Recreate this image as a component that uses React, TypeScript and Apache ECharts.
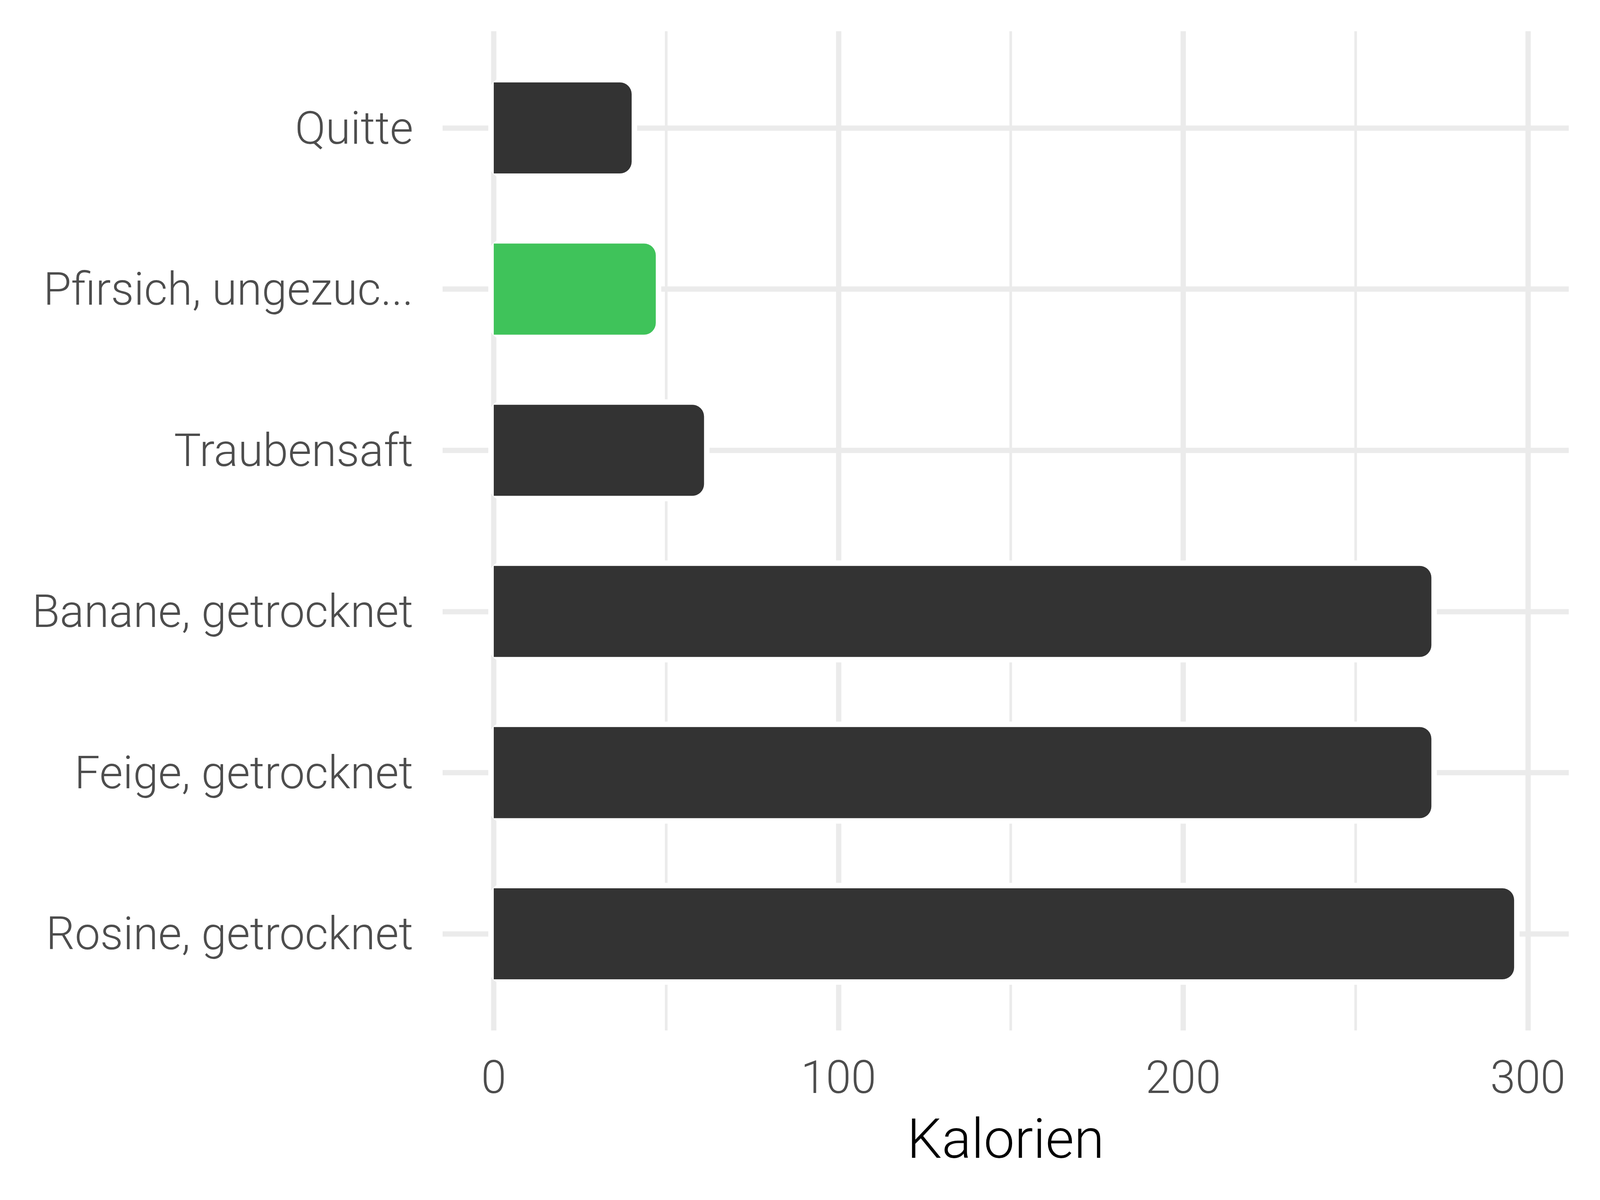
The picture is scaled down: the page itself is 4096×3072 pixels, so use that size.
import React, { useEffect, useRef } from "react";
import * as echarts from "echarts";

const categories = [
  "Quitte",
  "Pfirsich, ungezuc...",
  "Traubensaft",
  "Banane, getrocknet",
  "Feige, getrocknet",
  "Rosine, getrocknet",
];
const values = [40, 47, 61, 272, 272, 296];
const highlighted = [false, true, false, false, false, false];
const xTicks = [0, 100, 200, 300];
const xTitle = "Kalorien";

const DARK = "#333333";
const GREEN = "#3FC35A";
const GRID = "#EBEBEB";
const FONT = "Roboto";

export default function App() {
  const ref = useRef<HTMLDivElement>(null);
  useEffect(() => {
    const chart = echarts.init(ref.current!, null, { renderer: "svg" });
    chart.setOption({
      animation: false,
      backgroundColor: "#FFFFFF",
      grid: { left: 1133, right: 80, top: 80, bottom: 434, containLabel: false },
      xAxis: {
        type: "value",
        min: -14.85,
        max: 311.85,
        splitNumber: 3,
        axisLine: { show: false },
        axisTick: { show: false },
        minorTick: { show: false, splitNumber: 2 },
        axisLabel: {
          showMinLabel: false,
          showMaxLabel: false,
          fontFamily: FONT,
          fontWeight: 300,
          fontSize: 116,
          color: "#4D4D4D",
          margin: 62,
          formatter: (v: number) => (xTicks.indexOf(v) >= 0 ? String(v) : ""),
        },
        splitLine: {
          show: true,
          showMinLine: false,
          showMaxLine: false,
          lineStyle: { color: GRID, width: 13.6 },
        },
        minorSplitLine: { show: true, lineStyle: { color: GRID, width: 6.8 } },
        name: xTitle,
        nameLocation: "middle",
        nameGap: 207,
        nameTextStyle: { fontFamily: FONT, fontWeight: 300, fontSize: 141, color: "#000000" },
      },
      yAxis: {
        type: "value",
        inverse: true,
        min: 0.4,
        max: 6.6,
        splitNumber: 6,
        axisLine: { show: false, onZero: false },
        axisTick: { show: false },
        axisLabel: {
          showMinLabel: false,
          showMaxLabel: false,
          fontFamily: FONT,
          fontWeight: 300,
          fontSize: 116,
          color: "#4D4D4D",
          margin: 75,
          formatter: (v: number) => {
            const k = Math.round(v);
            return Math.abs(v - k) < 1e-6 && categories[k - 1] ? categories[k - 1] : "";
          },
        },
        splitLine: {
          show: true,
          showMinLine: false,
          showMaxLine: false,
          lineStyle: { color: GRID, width: 13.6 },
        },
      },
      series: [
        {
          type: "custom",
          dimensions: ["value", "pos"],
          encode: { x: 0, y: 1 },
          data: values.map((v, i) => [v, i + 1]),
          renderItem: (params: any, api: any) => {
            const v = api.value(0);
            const pos = api.value(1);
            const p0 = api.coord([0, pos]);
            const p1 = api.coord([v, pos]);
            const unit = Math.abs(api.size([0, 1])[1]);
            const h = unit * 0.565;
            const g = 14;
            const r = 30;
            const top = p0[1] - h / 2;
            const w = p1[0] - p0[0];
            const color = highlighted[params.dataIndex] ? GREEN : DARK;
            return {
              type: "group",
              children: [
                {
                  type: "rect",
                  shape: { x: p0[0] - g, y: top - g, width: w + 2 * g, height: h + 2 * g, r: r + g },
                  style: { fill: "#FFFFFF" },
                },
                {
                  type: "rect",
                  shape: { x: p0[0], y: top, width: w, height: h, r: [0, r, r, 0] },
                  style: { fill: color },
                },
              ],
            };
          },
        },
      ],
    });
    return () => chart.dispose();
  }, []);
  return (
    <div
      ref={ref}
      style={{ position: "fixed", left: 0, top: 0, width: 4096, height: 3072 }}
    />
  );
}
